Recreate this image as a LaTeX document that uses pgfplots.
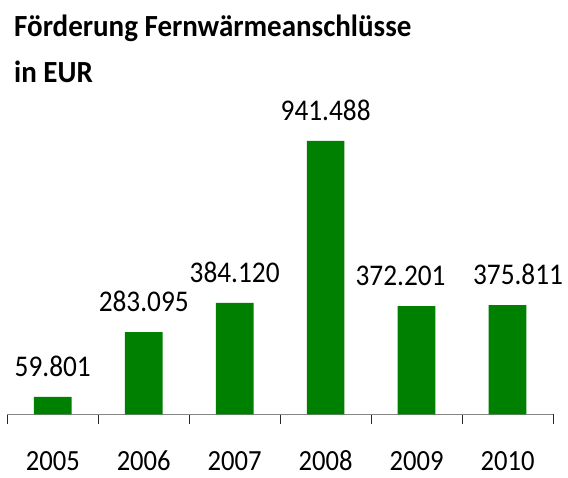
\documentclass[border=0pt]{standalone}
\usepackage{fontspec}
\setmainfont{Carlito}
\usepackage{pgfplots}
\pgfplotsset{compat=1.18}
\definecolor{bargreen}{RGB}{0,128,0}
\definecolor{axgray}{RGB}{134,134,134}
\definecolor{tickc}{RGB}{40,40,40}
\newcommand{\ys}[1]{\scalebox{1}[1.1]{#1}}
\newcommand{\shl}[2]{\kern#1\makebox[0pt]{#2}\kern-#1}
\begin{document}
\begin{tikzpicture}
\useasboundingbox (0,0) rectangle (568bp,478bp);
\node[anchor=base west, inner sep=0pt, font=\fontsize{29bp}{34bp}\selectfont\bfseries] at (14bp,441bp) {\scalebox{1}[1.06]{Förderung Fernwärmeanschlüsse}};
\node[anchor=base west, inner sep=0pt, font=\fontsize{29bp}{34bp}\selectfont\bfseries] at (14bp,395bp) {\scalebox{1}[1.06]{in EUR}};
\begin{axis}[
  at={(7.3bp,63.7bp)}, anchor=south west,
  scale only axis, width=545.7bp, height=348.4bp,
  xmin=-0.5, xmax=5.5, ymin=0, ymax=1200000,
  axis x line=bottom, axis y line=none,
  axis line style={-, axgray, line width=1.5bp},
  xtick={0,...,5},
  xticklabels={\ys{2005},\ys{2006},\ys{2007},\ys{2008},\ys{2009},\ys{2010}},
  minor xtick={-0.5,0.5,...,5.5},
  major tick length=0pt, minor tick length=10bp,
  tick align=outside,
  minor tick style={tickc, line width=0.9bp},
  xticklabel style={anchor=base, yshift=-56bp, inner sep=0pt, font=\fontsize{26.6bp}{30bp}\selectfont},
  clip=false,
  ybar, bar width=37.7bp,
  point meta=explicit symbolic,
  nodes near coords={\ys{\pgfplotspointmeta}},
  every node near coord/.append style={anchor=base, yshift=20.3bp, inner sep=0pt, font=\fontsize{27.3bp}{32bp}\selectfont, text=black},
]
\addplot[fill=bargreen, draw=none] coordinates {
  (0,59801) [59.801]
  (1,283095) [283.095]
  (2,384120) [384.120]
  (3,941488) [941.488]
  (4,372201) [\shl{-16bp}{372.201}]
  (5,375811) [\shl{10.5bp}{375.811}]
};
\end{axis}
\end{tikzpicture}
\end{document}
